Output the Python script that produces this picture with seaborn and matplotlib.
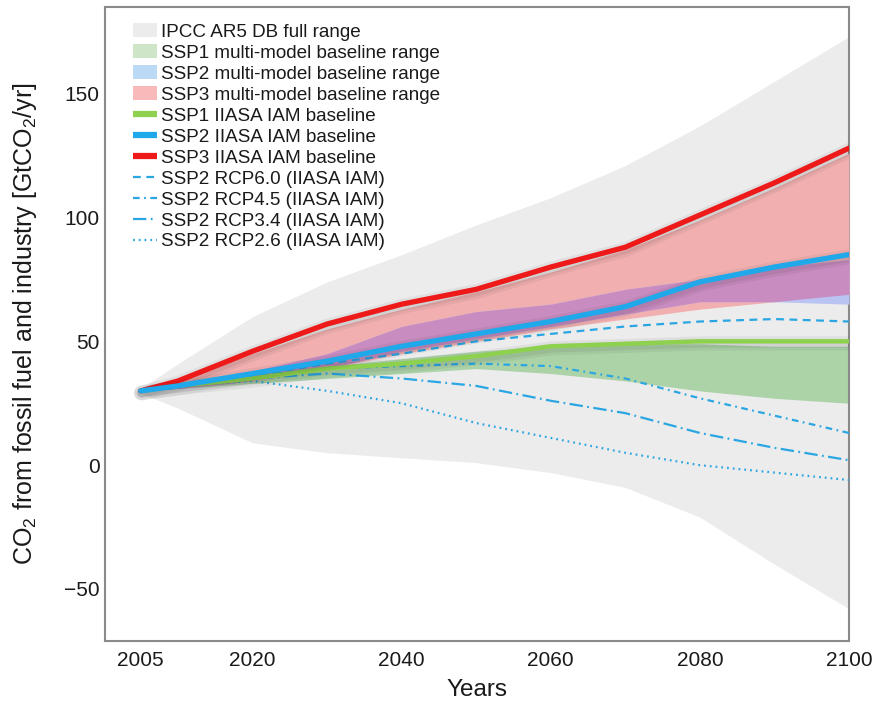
import matplotlib
matplotlib.use("Agg")
import matplotlib.pyplot as plt
import matplotlib.patheffects as pe
import seaborn as sns
import numpy as np
from matplotlib.patches import Patch
from matplotlib.lines import Line2D

# ---------------- data (GtCO2/yr) ----------------
years = [2005, 2010, 2020, 2030, 2040, 2050, 2060, 2070, 2080, 2090, 2100]

ipcc_hi = [31, 41, 60, 74, 85, 97, 108, 121, 137, 155, 173]
ipcc_lo = [29, 23, 9, 5, 3, 1, -3, -9, -21, -40, -58]

ssp1_hi = [30, 32, 36, 40, 43, 46, 48, 49, 49, 48, 48]
ssp1_lo = [30, 31, 33, 35, 37, 39, 37, 34, 30, 27, 25]

ssp2_hi = [30, 33, 38, 45, 56, 62, 65, 71, 75, 80, 83]
ssp2_lo = [30, 31, 34, 39, 46, 51, 56, 61, 66, 66, 65]

ssp3_hi = [30, 34, 45, 55, 63, 70, 78, 87, 99, 112, 126]
ssp3_lo = [30, 31, 34, 39, 45, 50, 55, 59, 63, 66, 69]

ssp1_base = [30, 32, 35, 39, 41, 44, 48, 49, 50, 50, 50]
ssp2_base = [30, 32, 37, 42, 48, 53, 58, 64, 74, 80, 85]
ssp3_base = [30, 34, 46, 57, 65, 71, 80, 88, 101, 114, 128]

rcp60 = [30, 32, 36, 41, 45, 50, 53, 56, 58, 59, 58]
rcp45 = [30, 32, 36, 39, 40, 41, 40, 35, 27, 20, 13]
rcp34 = [30, 32, 35, 37, 35, 32, 26, 21, 13, 7, 2]
rcp26 = [30, 32, 34, 30, 25, 17, 11, 5, 0, -3, -6]

x_ticks = [2005, 2020, 2040, 2060, 2080, 2100]
y_ticks = [-50, 0, 50, 100, 150]
y_tick_labels = ["\u221250", "0", "50", "100", "150"]

legend_labels = [
    "IPCC AR5 DB full range",
    "SSP1 multi-model baseline range",
    "SSP2 multi-model baseline range",
    "SSP3 multi-model baseline range",
    "SSP1 IIASA IAM baseline",
    "SSP2 IIASA IAM baseline",
    "SSP3 IIASA IAM baseline",
    "SSP2 RCP6.0 (IIASA IAM)",
    "SSP2 RCP4.5 (IIASA IAM)",
    "SSP2 RCP3.4 (IIASA IAM)",
    "SSP2 RCP2.6 (IIASA IAM)",
]

# ---------------- style ----------------
sns.set_theme(style="white")
plt.rcParams["font.family"] = ["Liberation Sans", "DejaVu Sans"]
plt.rcParams["mathtext.fontset"] = "custom"
plt.rcParams["mathtext.rm"] = "Liberation Sans"
plt.rcParams["mathtext.it"] = "Liberation Sans:italic"
plt.rcParams["mathtext.bf"] = "Liberation Sans:bold"

C_GRAY = "#ececec"
C_GREEN = "#acd3a8"
C_PINK = "#f1afaf"
C_BLUE = "#b9c4f2"
C_PURPLE = "#c98cc0"
C_L1 = "#8dd14f"
C_L2 = "#1fa9ea"
C_L3 = "#ee1a1a"
C_RCP = "#2aa6e2"

fig = plt.figure(figsize=(8.78, 7.02), dpi=100)
ax = fig.add_axes([105 / 878, 1 - 641 / 702, 744 / 878, 634 / 702])

yr = np.array(years, dtype=float)
ax.fill_between(yr, ipcc_lo, ipcc_hi, color=C_GRAY, lw=0, zorder=1)
ax.fill_between(yr, ssp1_lo, ssp1_hi, color=C_GREEN, lw=0, zorder=2)
ax.fill_between(yr, ssp3_lo, ssp3_hi, color=C_PINK, lw=0, zorder=3)
ax.fill_between(yr, ssp2_lo, ssp2_hi, color=C_BLUE, lw=0, zorder=3)
ov_lo = np.maximum(ssp2_lo, ssp3_lo)
ov_hi = np.minimum(ssp2_hi, ssp3_hi)
ax.fill_between(yr, ov_lo, ov_hi, where=ov_hi > ov_lo, interpolate=True,
                color=C_PURPLE, lw=0, zorder=4)

rcp_styles = [
    (rcp60, (0, (3.5, 2.5))),
    (rcp45, (0, (3, 2, 0.8, 2))),
    (rcp34, (0, (6, 2, 0.8, 2))),
    (rcp26, (0, (0.8, 1.8))),
]
for vals, ls in rcp_styles:
    sns.lineplot(x=years, y=vals, ax=ax, color=C_RCP, lw=1.6, linestyle=ls,
                 zorder=5, legend=False)


def shadow(lw):
    return [pe.SimpleLineShadow(offset=(0.5, -1.5), shadow_color="black", alpha=0.05,
                                linewidth=lw + 7),
            pe.SimpleLineShadow(offset=(0.5, -1.5), shadow_color="black", alpha=0.06,
                                linewidth=lw + 3),
            pe.Normal()]


for vals, col, lw, z in [(ssp1_base, C_L1, 3.2, 6), (ssp3_base, C_L3, 3.8, 7),
                         (ssp2_base, C_L2, 3.8, 8)]:
    sns.lineplot(x=years, y=vals, ax=ax, color=col, lw=lw, zorder=z, legend=False,
                 path_effects=shadow(lw))

ax.set_xlim(2000.2, 2100)
ax.set_ylim(-71, 185)
ax.set_xticks(x_ticks)
ax.set_yticks(y_ticks)
ax.set_yticklabels(y_tick_labels)
ax.tick_params(axis="both", direction="in", length=10, width=1.2, color="#333333",
               labelsize=15, labelcolor="#1a1a1a")
ax.tick_params(axis="x", pad=7)
ax.tick_params(axis="y", pad=4)
ax.tick_params(top=False, right=False)
for s in ax.spines.values():
    s.set_visible(True)
    s.set_color("#8a8a8a")
    s.set_linewidth(1.5)

ax.set_xlabel("Years", fontsize=17.5, color="#1a1a1a", labelpad=7)
ax.set_ylabel(r"CO$_2$ from fossil fuel and industry [GtCO$_2$/yr]",
              fontsize=18, color="#1a1a1a", labelpad=18)

handles = [
    Patch(facecolor=C_GRAY, edgecolor="none"),
    Patch(facecolor="#cfe5c8", edgecolor="none"),
    Patch(facecolor="#bcd9f6", edgecolor="none"),
    Patch(facecolor="#f7b9b9", edgecolor="none"),
    Line2D([], [], color=C_L1, lw=4.5, solid_capstyle="butt"),
    Line2D([], [], color=C_L2, lw=4.5, solid_capstyle="butt"),
    Line2D([], [], color=C_L3, lw=4.5, solid_capstyle="butt"),
] + [Line2D([], [], color=C_RCP, lw=1.6, linestyle=ls) for _, ls in rcp_styles]

leg = ax.legend(handles=handles, labels=legend_labels, loc="upper left",
                bbox_to_anchor=(28 / 744, 1 - 16 / 634),
                frameon=False, fontsize=13.6, borderpad=0, borderaxespad=0,
                handlelength=1.28, handleheight=0.78, handletextpad=0.22,
                labelspacing=0.175)
for t in leg.get_texts():
    t.set_color("#1a1a1a")

fig.savefig("out.png", dpi=100)
